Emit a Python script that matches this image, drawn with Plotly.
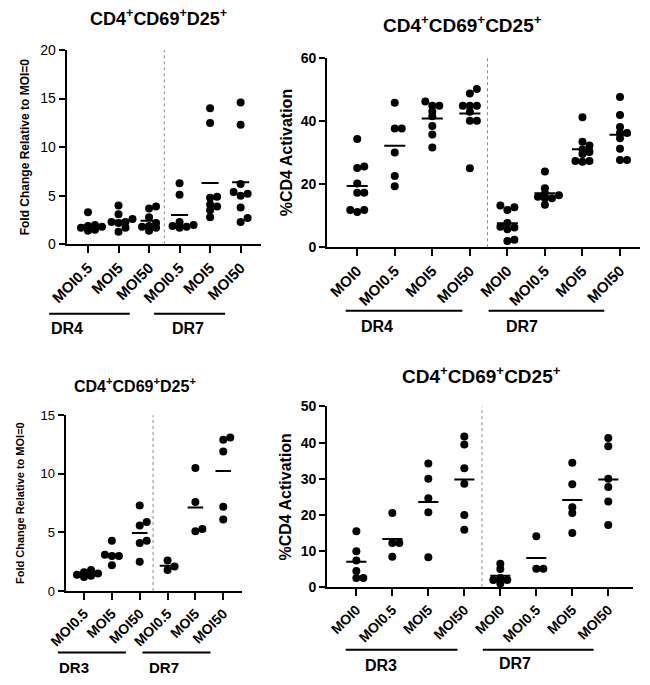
import plotly.graph_objects as go

W, H = 650, 685
FONT = "Liberation Sans, Arial, sans-serif"

# ---------------- data ----------------
p1_cats = ["MOI0.5", "MOI5", "MOI50", "MOI0.5", "MOI5", "MOI50"]
p1_vals = [
    [3.3, 2.0, 1.9, 1.8, 1.7, 1.5, 1.4],
    [4.0, 3.1, 2.6, 2.3, 2.2, 2.3, 1.7, 1.3],
    [3.9, 3.7, 2.8, 2.2, 1.9, 1.8, 1.7, 1.4],
    [6.3, 5.1, 2.3, 1.9, 2.0, 1.8, 1.7],
    [14.0, 12.5, 4.9, 4.8, 4.1, 3.9, 3.5, 2.8],
    [14.6, 12.3, 6.2, 5.4, 5.2, 5.0, 3.8, 2.7, 2.3],
]
p2_cats = ["MOI0", "MOI0.5", "MOI5", "MOI50", "MOI0", "MOI0.5", "MOI5", "MOI50"]
p2_vals = [
    [34.3, 25.6, 25.1, 20.2, 17.3, 17.3, 11.2, 11.8, 11.8],
    [45.8, 37.6, 37.6, 30.0, 22.6, 19.3],
    [46.2, 44.8, 44.8, 43.0, 41.5, 38.4, 35.7, 31.6],
    [50.1, 48.7, 44.8, 44.8, 44.8, 42.9, 40.1, 40.1, 25.0],
    [13.2, 12.7, 11.8, 7.7, 6.5, 6.3, 5.7, 2.4, 2.0],
    [24.0, 18.7, 17.0, 16.5, 16.0, 15.5, 15.5, 13.5],
    [41.2, 33.4, 32.2, 31.0, 30.2, 29.5, 27.3, 27.3, 27.1],
    [47.6, 41.9, 38.1, 36.2, 36.2, 34.5, 31.2, 27.6, 27.6],
]
p3_cats = ["MOI0.5", "MOI5", "MOI50", "MOI0.5", "MOI5", "MOI50"]
p3_vals = [
    [1.8, 1.6, 1.5, 1.4, 1.3, 1.2],
    [4.3, 3.1, 3.0, 3.0, 2.2],
    [7.3, 5.9, 5.6, 4.3, 4.1, 2.5],
    [2.6, 1.8, 2.1],
    [10.5, 7.6, 5.3, 5.1],
    [13.1, 12.9, 11.9, 7.2, 6.1],
]
p4_cats = ["MOI0", "MOI0.5", "MOI5", "MOI50", "MOI0", "MOI0.5", "MOI5", "MOI50"]
p4_vals = [
    [15.5, 9.9, 7.4, 4.5, 2.5, 2.5],
    [20.5, 12.2, 12.2, 8.4],
    [34.2, 30.0, 24.6, 20.7, 8.3],
    [41.7, 39.5, 32.9, 28.6, 20.0, 15.9],
    [6.5, 5.0, 2.5, 2.0, 2.0, 1.0],
    [14.1, 5.1, 5.1],
    [34.4, 28.5, 22.1, 20.5, 15.0],
    [41.3, 39.0, 30.0, 27.7, 23.7, 17.2],
]

titles = ["CD4<sup>+</sup>CD69<sup>+</sup>D25<sup>+</sup>",
          "CD4<sup>+</sup>CD69<sup>+</sup>CD25<sup>+</sup>",
          "CD4<sup>+</sup>CD69<sup>+</sup>D25<sup>+</sup>",
          "CD4<sup>+</sup>CD69<sup>+</sup>CD25<sup>+</sup>"]
ytitles = ["Fold Change Relative to MOI=0", "%CD4 Activation",
           "Fold Change Relative to MOI=0", "%CD4 Activation"]
group_names = [["DR4", "DR7"], ["DR4", "DR7"], ["DR3", "DR7"], ["DR3", "DR7"]]
ytickvals = [[0, 5, 10, 15, 20], [0, 20, 40, 60], [0, 5, 10, 15], [0, 10, 20, 30, 40, 50]]

# ---------------- layout config (pixels) ----------------
panels = [
    dict(cats=p1_cats, vals=p1_vals, px=(50, 250), py=(43, 242), xr=(-0.7, 5.67), yr=(0, 20),
         div=2.5, yfont=14, ybold=False, ytf=12, ystand=8, xtf=15, tf=18, title_xy=(145, 10),
         lines=[(32, 115), (140, 213)], line_y=313, labs=[(50, 328), (175, 328)], lf=16),
    dict(cats=p2_cats, vals=p2_vals, px=(318, 640), py=(51, 245), xr=(-0.8, 7.54), yr=(0, 60),
         div=3.47, yfont=14, ybold=True, ytf=16, ystand=4, xtf=15, tf=19, title_xy=(457, 16),
         lines=[(337, 457), (484, 603)], line_y=310, labs=[(369, 326), (518, 326)], lf=16),
    dict(cats=p3_cats, vals=p3_vals, px=(49, 230), py=(417, 597), xr=(-0.66, 5.66), yr=(0, 15),
         div=2.48, yfont=13, ybold=False, ytf=11, ystand=14, xtf=14, tf=16, title_xy=(120, 386),
         lines=[(41, 111), (128, 198)], line_y=660, labs=[(58, 675), (150, 675)], lf=15),
    dict(cats=p4_cats, vals=p4_vals, px=(318, 633), py=(408, 593), xr=(-0.81, 7.7), yr=(0, 50),
         div=3.49, yfont=14, ybold=True, ytf=16, ystand=5, xtf=14, tf=19, title_xy=(477, 376),
         lines=[(337, 452), (478, 592)], line_y=657, labs=[(373, 673), (511, 671)], lf=16),
]

MSIZE = 8
HALF = 0.28


def beeswarm(vals, xppu, yppu, diam):
    """Deterministic side-by-side placement of points that would overlap."""
    order = sorted(range(len(vals)), key=lambda i: vals[i])
    placed = []
    offs = [0.0] * len(vals)
    step = diam * 0.9
    thr = diam * 0.6
    cands = [0, 1, -1, 2, -2]
    for i in order:
        yv = vals[i] * yppu
        best, bestd = 0, -1
        for c in cands:
            xo = c * step
            d = min([((xo - a) ** 2 + (yv - b) ** 2) ** 0.5 for a, b in placed] or [1e9])
            if d >= thr:
                best = c
                break
            if d > bestd:
                best, bestd = c, d
        xo = best * step
        placed.append((xo, yv))
        offs[i] = xo / xppu
    return offs


fig = go.Figure()
shapes = []
annotations = []
layout = {}

for k, p in enumerate(panels):
    sfx = "" if k == 0 else str(k + 1)
    xa, ya = "x" + sfx, "y" + sfx
    xdom = [p["px"][0] / W, p["px"][1] / W]
    ydom = [1 - p["py"][1] / H, 1 - p["py"][0] / H]
    xppu = (p["px"][1] - p["px"][0]) / (p["xr"][1] - p["xr"][0])
    yppu = (p["py"][1] - p["py"][0]) / (p["yr"][1] - p["yr"][0])

    xs, ys, lx, ly = [], [], [], []
    for gi, vals in enumerate(p["vals"]):
        offs = beeswarm(vals, xppu, yppu, MSIZE)
        xs += [gi + o for o in offs]
        ys += vals
        m = sum(vals) / len(vals)
        lx += [gi - HALF, gi + HALF, None]
        ly += [m, m, None]
    fig.add_trace(go.Scatter(x=xs, y=ys, mode="markers", xaxis=xa, yaxis=ya,
                             marker=dict(size=MSIZE, color="black"), cliponaxis=False,
                             showlegend=False, hoverinfo="skip"))
    fig.add_trace(go.Scatter(x=lx, y=ly, mode="lines", xaxis=xa, yaxis=ya,
                             line=dict(color="black", width=2), cliponaxis=False,
                             showlegend=False, hoverinfo="skip"))

    layout["xaxis" + sfx] = dict(
        domain=xdom, range=list(p["xr"]), anchor=ya,
        tickmode="array", tickvals=list(range(len(p["cats"]))),
        ticktext=["<b>%s</b>" % c for c in p["cats"]], tickangle=-45,
        tickfont=dict(family=FONT, size=p["xtf"], color="black"),
        ticks="outside", ticklen=7, tickwidth=2, tickcolor="black",
        showline=True, linewidth=2, linecolor="black", showgrid=False, zeroline=False,
        fixedrange=True)
    layout["yaxis" + sfx] = dict(
        domain=ydom, range=list(p["yr"]), anchor=xa,
        tickmode="array", tickvals=ytickvals[k],
        ticktext=[("<b>%d</b>" % v) if p["ybold"] else str(v) for v in ytickvals[k]],
        tickfont=dict(family=FONT, size=p["yfont"], color="black"),
        ticks="outside", ticklen=6, tickwidth=2, tickcolor="black",
        showline=True, linewidth=2, linecolor="black", showgrid=False, zeroline=False,
        title=dict(text="<b>%s</b>" % ytitles[k], font=dict(family=FONT, size=p["ytf"], color="black"),
                   standoff=p["ystand"]),
        fixedrange=True)

    # dotted divider between the two donor groups
    shapes.append(dict(type="line", xref=xa, yref=ya + " domain", x0=p["div"], x1=p["div"],
                       y0=0, y1=1, line=dict(color="#888888", width=1, dash="dot")))
    # group underlines and labels
    for (a, b) in p["lines"]:
        shapes.append(dict(type="line", xref="paper", yref="paper", x0=a / W, x1=b / W,
                           y0=1 - p["line_y"] / H, y1=1 - p["line_y"] / H,
                           line=dict(color="black", width=2)))
    for (gx, gy), name in zip(p["labs"], group_names[k]):
        annotations.append(dict(xref="paper", yref="paper", x=gx / W, y=1 - gy / H,
                                text="<b>%s</b>" % name, showarrow=False,
                                font=dict(family=FONT, size=p["lf"], color="black"),
                                xanchor="center", yanchor="middle"))
    annotations.append(dict(xref="paper", yref="paper", x=p["title_xy"][0] / W, y=1 - p["title_xy"][1] / H,
                            text="<b>%s</b>" % titles[k], showarrow=False,
                            font=dict(family=FONT, size=p["tf"], color="black"),
                            xanchor="center", yanchor="middle"))

fig.update_layout(width=W, height=H, margin=dict(l=0, r=0, t=0, b=0),
                  paper_bgcolor="white", plot_bgcolor="white",
                  shapes=shapes, annotations=annotations, showlegend=False, **layout)

fig.write_html("out.html", config={"displayModeBar": False})
